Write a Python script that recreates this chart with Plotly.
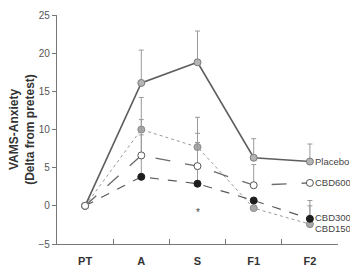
import plotly.graph_objects as go

categories = ["PT", "A", "S", "F1", "F2"]
placebo = [0, 16.1, 18.8, 6.3, 5.8]
placebo_err = [0, 4.3, 4.1, 2.5, 2.3]
cbd600 = [0, 6.6, 5.2, 2.7, 3.0]
cbd600_err = [0, 4.7, 4.3, 2.7, 0]
cbd300 = [0, 3.8, 2.9, 0.7, -1.7]
cbd300_err = [0, 5.5, 5.4, 0, 2.4]
cbd150 = [0, 10.0, 7.7, -0.3, -2.4]
cbd150_err = [0, 4.2, 3.9, 0, 2.4]
labels = ["Placebo", "CBD600", "CBD300", "CBD150"]
label_shift = [0, 0, 1, -4]
y_ticks = [-5, 0, 5, 10, 15, 20, 25]

series = [
    # name, values, err, line color, dash, width, fill, outline
    ("CBD150", cbd150, cbd150_err, "#9a9a9a", "dot", 1.0, "#a8a8a8", "#8a8a8a"),
    ("CBD300", cbd300, cbd300_err, "#5a5a5a", "dash", 1.2, "#1e1e1e", "#1e1e1e"),
    ("CBD600", cbd600, cbd600_err, "#6a6a6a", "longdash", 1.3, "#ffffff", "#555555"),
    ("Placebo", placebo, placebo_err, "#5e5e5e", "solid", 1.6, "#b4b4b4", "#7a7a7a"),
]

fig = go.Figure()
for name, vals, err, lc, dash, w, fill, outline in series:
    fig.add_trace(go.Scatter(
        x=categories, y=vals, mode="lines+markers", name=name,
        line=dict(color=lc, dash=dash, width=w),
        marker=dict(size=7, color=["#ffffff"] + [fill] * (len(vals) - 1),
                    line=dict(color=["#666666"] + [outline] * (len(vals) - 1), width=1)),
        error_y=dict(type="data", symmetric=False, array=err,
                     arrayminus=[0] * len(err), color="#9a9a9a",
                     thickness=1, width=2.5),
        showlegend=False, cliponaxis=False,
    ))

final_vals = [placebo[-1], cbd600[-1], cbd300[-1], cbd150[-1]]
for lab, v, s in zip(labels, final_vals, label_shift):
    fig.add_annotation(x=categories[-1], y=v, text=lab, showarrow=False,
                       xanchor="left", xshift=3, yshift=s,
                       font=dict(size=9.5, color="#444444"))

fig.add_annotation(x=categories[2], y=-0.9, text="*", showarrow=False,
                   font=dict(size=10, color="#444444"))

fig.update_layout(
    width=350, height=268,
    margin=dict(l=57, r=12, t=15, b=24),
    paper_bgcolor="white", plot_bgcolor="white",
    font=dict(family="Liberation Sans, Arial, sans-serif", color="#444444"),
)
fig.update_xaxes(
    type="category", categoryorder="array", categoryarray=categories,
    range=[-0.5, 4.5], automargin=False,
    showline=True, linecolor="#777777", linewidth=1.2,
    ticks="inside", tickson="boundaries", ticklen=5, tickcolor="#777777",
    showgrid=False, zeroline=False, ticklabelstandoff=7,
    tickfont=dict(size=11, color="#333333", family="Liberation Sans, Arial, sans-serif", weight="bold"),
)
fig.update_yaxes(
    range=[-5, 25], tickvals=y_ticks, automargin=False,
    showline=True, linecolor="#777777", linewidth=1.2,
    ticks="outside", ticklen=4, tickcolor="#777777",
    showgrid=False, zeroline=False,
    tickfont=dict(size=10, color="#555555"),
    title=dict(text="<b>VAMS-Anxiety</b><br><b>(Delta from pretest)</b>",
               font=dict(size=12, color="#333333"), standoff=1),
)

fig.write_html("out.html")
